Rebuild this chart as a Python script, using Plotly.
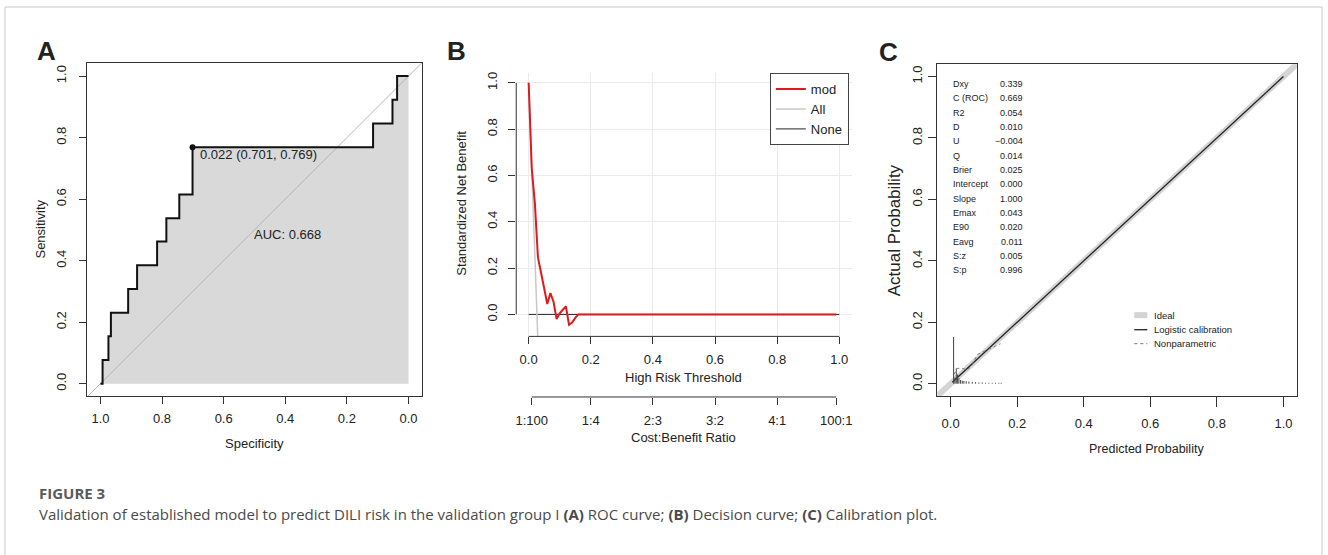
import plotly.graph_objects as go

W, H = 1328, 555
ARIAL = "Liberation Sans, Arial, sans-serif"
CAP = "Open Sans, Lato, sans-serif"

# ---------------- Panel A: ROC curve ----------------
roc_spec = [1.0, 0.993, 0.993, 0.974, 0.974, 0.966, 0.966, 0.910, 0.910, 0.881, 0.881,
            0.816, 0.816, 0.786, 0.786, 0.744, 0.744, 0.701, 0.701, 0.701, 0.115, 0.115,
            0.052, 0.052, 0.037, 0.037, 0.0]
roc_sens = [0.0, 0.0, 0.077, 0.077, 0.154, 0.154, 0.231, 0.231, 0.308, 0.308, 0.385,
            0.385, 0.462, 0.462, 0.538, 0.538, 0.615, 0.615, 0.692, 0.769, 0.769, 0.846,
            0.846, 0.923, 0.923, 1.0, 1.0]
diag_spec = [1.05, -0.05]
diag_sens = [-0.05, 1.05]
best_spec, best_sens, best_thr = 0.701, 0.769, 0.022
auc_value = 0.668
roc_ticks = [1.0, 0.8, 0.6, 0.4, 0.2, 0.0]

# ---------------- Panel B: Decision curve ----------------
thr_mod = [0.0, 0.01, 0.02, 0.03, 0.04, 0.05, 0.06, 0.07, 0.08, 0.09, 0.10, 0.11,
           0.12, 0.13, 0.14, 0.15, 0.16, 0.99]
snb_mod = [1.0, 0.63, 0.48, 0.245, 0.18, 0.11, 0.045, 0.092, 0.055, -0.02, 0.005, 0.02,
           0.034, -0.045, -0.035, -0.015, 0.0, 0.0]
thr_all = [0.0, 0.01, 0.02, 0.03]
snb_all = [1.0, 0.62, 0.25, -0.12]
thr_none = [0.0, 1.0]
snb_none = [0.0, 0.0]
dca_ticks = [0.0, 0.2, 0.4, 0.6, 0.8, 1.0]
cb_ticks = [0.01, 0.2, 0.4, 0.6, 0.8, 0.99]
cb_labels = ["1:100", "1:4", "2:3", "3:2", "4:1", "100:1"]

# ---------------- Panel C: Calibration plot ----------------
ideal_x = [-0.05, 1.05]
ideal_y = [-0.05, 1.05]
logit_x = [0.005, 1.0]
logit_y = [0.005, 1.0]
np_x = [0.01, 0.02, 0.035, 0.05, 0.065, 0.08, 0.10, 0.12, 0.15]
np_y = [0.03, 0.05, 0.05, 0.045, 0.06, 0.095, 0.105, 0.115, 0.13]
rug_x = [0.009, 0.013, 0.017, 0.021, 0.025, 0.03, 0.035, 0.04, 0.047, 0.055, 0.065,
         0.075, 0.085, 0.095, 0.105, 0.115, 0.125, 0.135, 0.145, 0.152]
rug_h = [0.152, 0.02, 0.05, 0.03, 0.018, 0.012, 0.01, 0.009, 0.008, 0.007, 0.006,
         0.005, 0.004, 0.004, 0.003, 0.003, 0.003, 0.003, 0.003, 0.003]
stat_labels = ["Dxy", "C (ROC)", "R2", "D", "U", "Q", "Brier", "Intercept", "Slope",
               "Emax", "E90", "Eavg", "S:z", "S:p"]
stat_values = ["0.339", "0.669", "0.054", "0.010", "\u22120.004", "0.014", "0.025",
               "0.000", "1.000", "0.043", "0.020", "0.011", "0.005", "0.996"]
cal_ticks = [0.0, 0.2, 0.4, 0.6, 0.8, 1.0]
cal_legend = ["Ideal", "Logistic calibration", "Nonparametric"]

caption_title = "FIGURE 3"
caption_text = ("Validation of established model to predict DILI risk in the validation group I "
                "<b>(A)</b> ROC curve; <b>(B)</b> Decision curve; <b>(C)</b> Calibration plot.")


def fx(p):
    return p / W


def fy(p):
    return 1 - p / H


fig = go.Figure()

# Panel A traces
fig.add_trace(go.Scatter(x=roc_spec, y=roc_sens, mode="lines", fill="tozeroy",
                         fillcolor="#d9d9d9", line=dict(width=0), xaxis="x", yaxis="y",
                         showlegend=False, hoverinfo="skip"))
fig.add_trace(go.Scatter(x=diag_spec, y=diag_sens, mode="lines",
                         line=dict(color="#b4b4b4", width=1), xaxis="x", yaxis="y",
                         showlegend=False, hoverinfo="skip"))
fig.add_trace(go.Scatter(x=roc_spec, y=roc_sens, mode="lines",
                         line=dict(color="#111111", width=2), xaxis="x", yaxis="y",
                         showlegend=False))
fig.add_trace(go.Scatter(x=[best_spec], y=[best_sens], mode="markers",
                         marker=dict(color="#111111", size=6), xaxis="x", yaxis="y",
                         showlegend=False))

# Panel B traces
fig.add_trace(go.Scatter(x=thr_none, y=snb_none, mode="lines", name="None",
                         line=dict(color="#222222", width=1), xaxis="x2", yaxis="y2",
                         legend="legend", legendrank=3))
fig.add_trace(go.Scatter(x=thr_all, y=snb_all, mode="lines", name="All",
                         line=dict(color="#c8c8c8", width=1.5), xaxis="x2", yaxis="y2",
                         legend="legend", legendrank=2))
fig.add_trace(go.Scatter(x=thr_mod, y=snb_mod, mode="lines", name="mod",
                         line=dict(color="#e0191b", width=2), xaxis="x2", yaxis="y2",
                         legend="legend", legendrank=1))
# carrier so the cost:benefit axis is drawn
fig.add_trace(go.Scatter(x=cb_ticks, y=[None] * len(cb_ticks), mode="lines",
                         xaxis="x4", yaxis="y2", showlegend=False, hoverinfo="skip"))

# Panel C traces
cal_styles = [dict(color="#d4d4d4", width=6), dict(color="#222222", width=1.3),
              dict(color="#777777", width=1, dash="dot")]
fig.add_trace(go.Scatter(x=ideal_x, y=ideal_y, mode="lines", name=cal_legend[0],
                         line=cal_styles[0], xaxis="x3", yaxis="y3", showlegend=False))
fig.add_trace(go.Scatter(x=logit_x, y=logit_y, mode="lines", name=cal_legend[1],
                         line=cal_styles[1], xaxis="x3", yaxis="y3", showlegend=False))
fig.add_trace(go.Scatter(x=np_x, y=np_y, mode="lines", name=cal_legend[2],
                         line=cal_styles[2], xaxis="x3", yaxis="y3", showlegend=False))
sx, sy = [], []
for xv, hv in zip(rug_x, rug_h):
    sx += [xv, xv, None]
    sy += [0, hv, None]
fig.add_trace(go.Scatter(x=sx, y=sy, mode="lines", line=dict(color="#444444", width=1),
                         xaxis="x3", yaxis="y3", showlegend=False, hoverinfo="skip"))

tickfont = dict(family=ARIAL, size=13, color="#222222")
common = dict(ticks="outside", tickcolor="#333333", zeroline=False, tickfont=tickfont)

fig.update_layout(
    width=W, height=H,
    margin=dict(l=0, r=0, t=0, b=0),
    paper_bgcolor="white", plot_bgcolor="white",
    showlegend=True,
    xaxis=dict(domain=[fx(86), fx(422)], range=[1.044, -0.045], anchor="y",
               tickvals=roc_ticks, ticktext=[f"{v:.1f}" for v in roc_ticks], ticklen=7,
               showline=True, mirror=True, linecolor="#333333", showgrid=False,
               ticklabelstandoff=3, **common),
    yaxis=dict(domain=[fy(396), fy(62)], range=[-0.041, 1.043], anchor="x",
               tickvals=roc_ticks, ticktext=[f"{v:.1f}" for v in roc_ticks], ticklen=7,
               tickangle=-90, showline=True, mirror=True, linecolor="#333333",
               showgrid=False, ticklabelstandoff=8, **common),
    xaxis2=dict(domain=[fx(516), fx(852)], range=[-0.04, 1.04], anchor="y2",
                tickvals=dca_ticks, ticktext=[f"{v:.1f}" for v in dca_ticks], ticklen=7,
                showline=False, showgrid=True, gridcolor="#ebebeb", ticklabelstandoff=4,
                **common),
    yaxis2=dict(domain=[fy(336), fy(72)], range=[-0.095, 1.043], anchor="x2",
                tickvals=dca_ticks, ticktext=[f"{v:.1f}" for v in dca_ticks], ticklen=7,
                tickangle=-90, showline=False, showgrid=True, gridcolor="#ebebeb",
                ticklabelstandoff=6, **common),
    xaxis4=dict(overlaying="x2", anchor="free", position=fy(396.7), side="bottom",
                range=[-0.04, 1.04], tickvals=cb_ticks, ticktext=cb_labels, ticklen=7,
                showline=False, showgrid=False, ticklabelstandoff=4, **common),
    xaxis3=dict(domain=[fx(937.7), fx(1297.7)], range=[-0.04, 1.04], anchor="y3",
                tickvals=cal_ticks, ticktext=[f"{v:.1f}" for v in cal_ticks], ticklen=10,
                showline=True, mirror=True, linecolor="#333333", showgrid=False,
                ticks="outside", tickcolor="#333333", zeroline=False,
                tickfont=dict(family=ARIAL, size=13, color="#222222"), ticklabelstandoff=5),
    yaxis3=dict(domain=[fy(395.7), fy(63.3)], range=[-0.04, 1.04], anchor="x3",
                tickvals=cal_ticks, ticktext=[f"{v:.1f}" for v in cal_ticks], ticklen=8,
                tickangle=-90, showline=True, mirror=True, linecolor="#333333",
                showgrid=False, ticklabelstandoff=1, **common),
    legend=dict(x=fx(770), y=fy(72.3), xanchor="left", yanchor="top",
                bordercolor="#444444", borderwidth=1, bgcolor="white",
                font=dict(family=ARIAL, size=13, color="#222222"), traceorder="normal",
                itemwidth=30, tracegroupgap=0),
)

ann = []


def add_text(text, x, y, size=13, family=ARIAL, angle=0, xanchor="center",
             yanchor="middle", color="#222222", xref="paper", yref="paper"):
    ann.append(dict(text=text, x=x, y=y, xref=xref, yref=yref, showarrow=False,
                    font=dict(family=family, size=size, color=color), textangle=angle,
                    xanchor=xanchor, yanchor=yanchor))


# panel letters
add_text("<b>A</b>", fx(46), fy(50), size=26)
add_text("<b>B</b>", fx(456.5), fy(50.5), size=26)
add_text("<b>C</b>", fx(888.5), fy(51), size=26)

# axis titles
add_text("Sensitivity", fx(40), fy(228), angle=-90)
add_text("Specificity", fx(254), fy(443))
add_text("Standardized Net Benefit", fx(461.7), fy(203), angle=-90)
add_text("High Risk Threshold", fx(684), fy(377))
add_text("Cost:Benefit Ratio", fx(684), fy(437))
add_text("Actual Probability", fx(895), fy(230), size=17, angle=-90)
add_text("Predicted Probability", fx(1147.3), fy(449.3), size=12.5)

# ROC annotations (data coords)
add_text(f"{best_thr:.3f} ({best_spec:.3f}, {best_sens:.3f})", 0.682, 0.745,
         xanchor="left", xref="x", yref="y")
add_text(f"AUC: {auc_value:.3f}", 0.393, 0.484, xref="x", yref="y")

# calibration statistics
for i, (lab, val) in enumerate(zip(stat_labels, stat_values)):
    yv = 0.976 - i * 0.0467
    add_text(lab, 0.0, yv, size=9, xanchor="left", xref="x3", yref="y3")
    add_text(val, 0.223, yv, size=9, xanchor="right", xref="x3", yref="y3")

shapes = []
# calibration legend (key drawn in panel C)
leg_rows = [314.7, 329.3, 343.3]
for name, style, ry in zip(cal_legend, cal_styles, leg_rows):
    shapes.append(dict(type="line", xref="paper", yref="paper", x0=fx(1135), x1=fx(1148),
                       y0=fy(ry), y1=fy(ry), line=style))
    add_text(name, fx(1153), fy(ry), size=9.5, xanchor="left")

# caption
add_text("<b>" + caption_title + "</b>", fx(36), fy(493), size=15, family=CAP,
         xanchor="left", color="#5a5a5a")
add_text(caption_text, fx(36), fy(514), size=15, family=CAP, xanchor="left",
         color="#4a4a4a")

fig.update_layout(annotations=ann)

# R-style axis lines for panel B
shapes.append(dict(type="line", xref="x2 domain", yref="y2", x0=0, x1=0, y0=0, y1=1,
                   line=dict(color="#333333", width=1)))
shapes.append(dict(type="line", xref="x2", yref="y2 domain", x0=0, x1=1, y0=0, y1=0,
                   line=dict(color="#333333", width=1)))
shapes.append(dict(type="line", xref="x2", yref="paper", x0=cb_ticks[0], x1=cb_ticks[-1],
                   y0=fy(396.7), y1=fy(396.7), line=dict(color="#333333", width=1)))
# figure frame
frame = dict(color="#c8c8c8", width=1)
shapes.append(dict(type="line", xref="paper", yref="paper", x0=fx(4), x1=fx(1323),
                   y0=fy(6), y1=fy(6), line=frame))
shapes.append(dict(type="line", xref="paper", yref="paper", x0=fx(4), x1=fx(4),
                   y0=fy(6), y1=0, line=frame))
shapes.append(dict(type="line", xref="paper", yref="paper", x0=fx(1323), x1=fx(1323),
                   y0=fy(6), y1=0, line=frame))
fig.update_layout(shapes=shapes)

fig.write_html("out.html", config={"displayModeBar": False},
               post_script="document.body.style.margin='0px';")
